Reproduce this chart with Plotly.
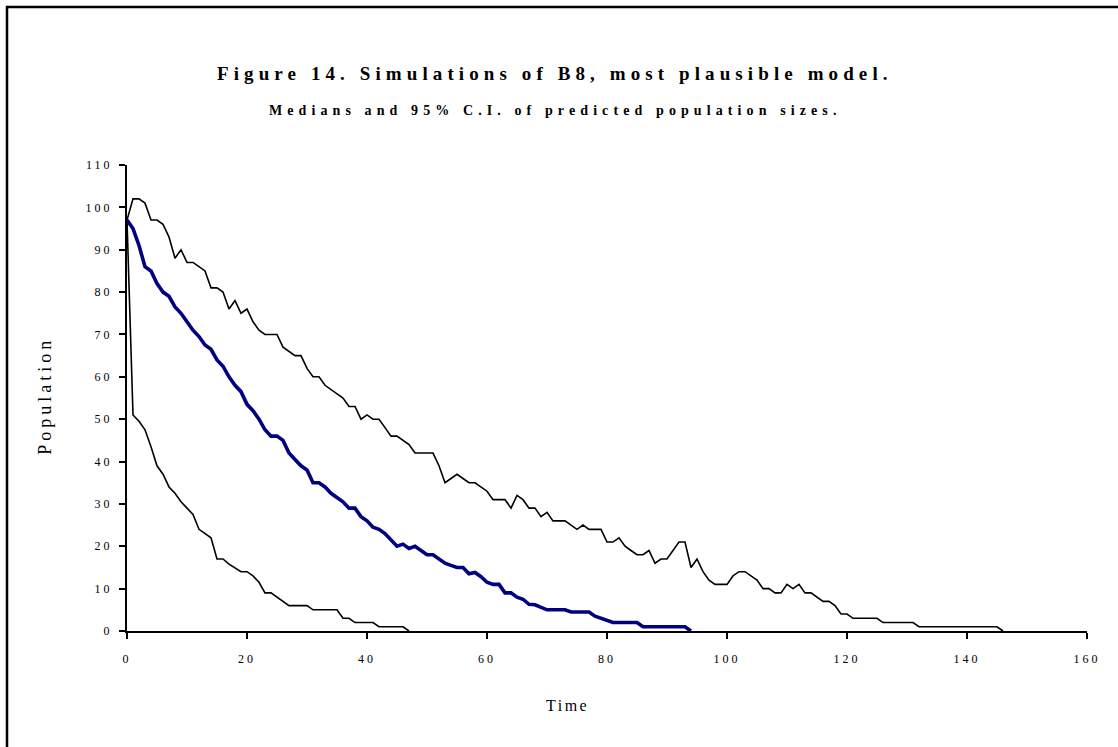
import plotly.graph_objects as go

# ---- data ----
time_upper = list(range(0, 147))
upper = [97, 102, 102, 101, 97, 97, 96, 93, 88, 90,
         87, 87, 86, 85, 81, 81, 80, 76, 78, 75,
         76, 73, 71, 70, 70, 70, 67, 66, 65, 65,
         62, 60, 60, 58, 57, 56, 55, 53, 53, 50,
         51, 50, 50, 48, 46, 46, 45, 44, 42, 42,
         42, 42, 39, 35, 36, 37, 36, 35, 35, 34,
         33, 31, 31, 31, 29, 32, 31, 29, 29, 27,
         28, 26, 26, 26, 25, 24, 25, 24, 24, 24,
         21, 21, 22, 20, 19, 18, 18, 19, 16, 17,
         17, 19, 21, 21, 15, 17, 14, 12, 11, 11,
         11, 13, 14, 14, 13, 12, 10, 10, 9, 9,
         11, 10, 11, 9, 9, 8, 7, 7, 6, 4,
         4, 3, 3, 3, 3, 3, 2, 2, 2, 2,
         2, 2, 1, 1, 1, 1, 1, 1, 1, 1,
         1, 1, 1, 1, 1, 1, 0]

time_median = list(range(0, 95))
median = [97, 95, 91, 86, 85, 82, 80, 79, 76.5, 75,
          73, 71, 69.5, 67.5, 66.5, 64, 62.5, 60, 58, 56.5,
          53.5, 52, 50, 47.5, 46, 46, 45, 42, 40.5, 39,
          38, 35, 35, 34, 32.5, 31.5, 30.5, 29, 29, 27,
          26, 24.5, 24, 23, 21.5, 20, 20.5, 19.5, 20, 19,
          18, 18, 17, 16, 15.5, 15, 15, 13.5, 13.8, 12.8,
          11.5, 11, 11, 9, 9, 8, 7.5, 6.3, 6.2, 5.5,
          5, 5, 5, 5, 4.5, 4.5, 4.5, 4.5, 3.5, 3,
          2.5, 2, 2, 2, 2, 2, 1, 1, 1, 1,
          1, 1, 1, 1, 0]

time_lower = list(range(0, 48))
lower = [97, 51, 49.5, 47.5, 43.5, 39, 37, 34, 32.5, 30.5,
         29, 27.5, 24, 23, 22, 17, 17, 15.8, 15, 14,
         14, 13, 11.5, 9, 9, 8, 7, 6, 6, 6,
         6, 5, 5, 5, 5, 5, 3, 3, 2, 2,
         2, 2, 1, 1, 1, 1, 1, 0]

x_ticks = [0, 20, 40, 60, 80, 100, 120, 140, 160]
y_ticks = [0, 10, 20, 30, 40, 50, 60, 70, 80, 90, 100, 110]

title_text = "Figure 14. Simulations of B8, most plausible model."
subtitle_text = "Medians and 95% C.I. of predicted population sizes."
x_title = "Time"
y_title = "Population"

FONT = "Liberation Serif, Times New Roman, serif"

fig = go.Figure()
fig.add_trace(go.Scatter(x=time_upper, y=upper, mode="lines",
                         line=dict(color="black", width=1.6), showlegend=False))
fig.add_trace(go.Scatter(x=time_lower, y=lower, mode="lines",
                         line=dict(color="black", width=1.6), showlegend=False))
fig.add_trace(go.Scatter(x=time_median, y=median, mode="lines",
                         line=dict(color="#000080", width=3.6), showlegend=False))

axis_common = dict(showgrid=False, zeroline=False, showline=True, linecolor="black",
                   linewidth=2, ticks="outside", ticklen=6, tickwidth=2, tickcolor="black",
                   tickfont=dict(family=FONT, size=12, color="black"))

fig.update_xaxes(range=[0, 160], tickvals=x_ticks, ticklabelstandoff=10, **axis_common)
fig.update_yaxes(range=[0, 110], tickvals=y_ticks, ticklabelstandoff=4, **axis_common)

fig.update_layout(
    width=1118, height=747,
    margin=dict(l=127, r=31, t=165, b=116, autoexpand=False),
    paper_bgcolor="white", plot_bgcolor="white",
    font=dict(family=FONT, color="black"),
    annotations=[
        dict(text="<b>" + title_text + "</b>", xref="paper", yref="paper",
             x=0.446, y=1.197, xanchor="center", yanchor="middle",
             showarrow=False, font=dict(size=19)),
        dict(text="<b>" + subtitle_text + "</b>", xref="paper", yref="paper",
             x=0.446, y=1.118, xanchor="center", yanchor="middle",
             showarrow=False, font=dict(size=14)),
        dict(text=x_title, xref="paper", yref="paper",
             x=0.459, y=-0.159, xanchor="center", yanchor="middle",
             showarrow=False, font=dict(size=16)),
        dict(text=y_title, xref="paper", yref="paper", textangle=-90,
             x=-0.0854, y=0.505, xanchor="center", yanchor="middle",
             showarrow=False, font=dict(size=18)),
    ],
    shapes=[
        dict(type="rect", xref="paper", yref="paper",
             x0=(7 - 127) / 960, x1=(1140 - 127) / 960,
             y0=(631 - 770) / 466, y1=(631 - 7) / 466,
             line=dict(color="black", width=2.5), fillcolor="rgba(0,0,0,0)", layer="below"),
    ],
)

post = """
var spacing = [5.1, 5.1, 2.5, 4.0];
var ann = document.querySelectorAll('.annotation-text');
ann.forEach(function(el, i){ if (i < spacing.length) { el.style.letterSpacing = spacing[i] + 'px'; } });
document.querySelectorAll('.xtick text, .ytick text').forEach(function(el){ el.style.letterSpacing = '3px'; });
"""

fig.write_html("out.html", post_script=post)
